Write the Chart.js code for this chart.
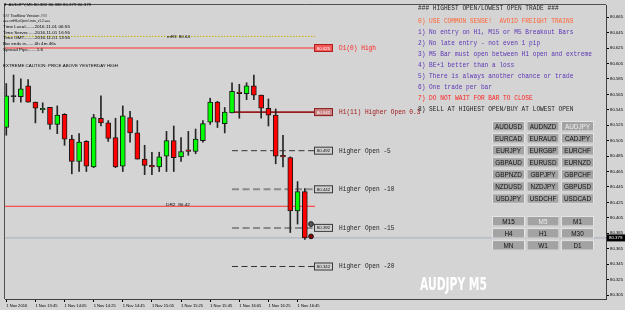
<!DOCTYPE html>
<html>
<head>
<meta charset="utf-8">
<title>AUDJPY M5</title>
<script src="https://cdn.jsdelivr.net/npm/chart.js@4.4.1/dist/chart.umd.min.js"></script>
<style>
html,body{margin:0;padding:0;background:#d4d4d4;overflow:hidden;}
#box{position:relative;width:625px;height:310px;}
canvas{display:block;}
</style>
</head>
<body>
<div id="box"><canvas id="chart" width="625" height="310"></canvas></div>
<script>
// ---------- DATA ----------
const times = ['13:25','13:30','13:35','13:40','13:45','13:50','13:55','14:00','14:05','14:10','14:15','14:20','14:25','14:30','14:35','14:40','14:45','14:50','14:55','15:00','15:05','15:10','15:15','15:20','15:25','15:30','15:35','15:40','15:45','15:50','15:55','16:00','16:05','16:10','16:15','16:20','16:25','16:30','16:35','16:40','16:45','16:50'];
const opens  = [80.522,80.562,80.562,80.576,80.555,80.545,80.548,80.526,80.539,80.507,80.478,80.504,80.471,80.534,80.528,80.509,80.472,80.535,80.515,80.481,80.473,80.471,80.485,80.505,80.484,80.493,80.491,80.505,80.529,80.555,80.527,80.541,80.568,80.566,80.576,80.564,80.547,80.538,80.486,80.483,80.414,80.439];
const highs  = [80.579,80.590,80.585,80.584,80.555,80.554,80.548,80.550,80.540,80.512,80.514,80.505,80.539,80.563,80.531,80.534,80.550,80.543,80.531,80.499,80.490,80.490,80.517,80.524,80.509,80.517,80.520,80.531,80.560,80.556,80.548,80.580,80.578,80.580,80.590,80.564,80.559,80.546,80.512,80.484,80.452,80.443];
const lows   = [80.512,80.555,80.555,80.555,80.528,80.541,80.520,80.514,80.499,80.462,80.465,80.465,80.470,80.524,80.504,80.470,80.465,80.503,80.481,80.461,80.461,80.465,80.465,80.465,80.478,80.486,80.488,80.503,80.526,80.522,80.515,80.541,80.534,80.558,80.558,80.534,80.524,80.475,80.471,80.386,80.397,80.377];
const closes = [80.563,80.562,80.572,80.555,80.547,80.547,80.526,80.538,80.507,80.478,80.503,80.472,80.535,80.528,80.508,80.471,80.537,80.515,80.481,80.473,80.471,80.484,80.505,80.483,80.491,80.491,80.507,80.527,80.555,80.529,80.542,80.569,80.566,80.576,80.564,80.547,80.538,80.485,80.484,80.414,80.439,80.379];

const xTickTimes  = ['13:25','13:45','14:05','14:25','14:45','15:05','15:25','15:45','16:05','16:25','16:45'];
const xTickLabels = ['1 Nov 2016','1 Nov 13:45','1 Nov 14:05','1 Nov 14:25','1 Nov 14:45','1 Nov 15:05','1 Nov 15:25','1 Nov 15:45','1 Nov 16:05','1 Nov 16:25','1 Nov 16:45'];
const yTicks = [80.305,80.325,80.345,80.365,80.385,80.405,80.425,80.445,80.465,80.485,80.505,80.525,80.545,80.565,80.585,80.605,80.625,80.645,80.665];

const d1High = 80.625;
const d1Name = 'D1(0) High';
const levelPrices = [80.542,80.492,80.442,80.392,80.342];
const levelNames  = ['H1(11) Higher Open 0.3','Higher Open -5','Higher Open -10','Higher Open -15','Higher Open -20'];
const dr2Price = 80.42;
const mr3Price = 80.64;
const bidPrice = 80.379;
const markerPrices = [80.397, 80.381];

const titleText = '\u25BC AUDJPY,M5 80.382 80.388 80.379 80.379';
const infoLines = ['### TooSlow Version ###','=== smHiLoOpen Lines_v1.2 ===','Time Local.......2016.11.01 06:55','Time Server......2016.11.01 16:55','Time GMT.........2016.11.01 13:55','Bar ends in.......0h 4m 46s','Spread Pips.......1.6'];
const cautionText = 'EXTREME CAUTION: PRICE ABOVE YESTERDAY HIGH';
const rules = ['### HIGHEST OPEN/LOWEST OPEN TRADE ###','0) USE COMMON SENSE!  AVOID FREIGHT TRAINS','1) No entry on H1, M15 or M5 Breakout Bars','2) No late entry - not even 1 pip','3) M5 Bar must open between H1 open and extreme','4) BE+1 better than a loss','5) There is always another chance or trade','6) One trade per bar','7) DO NOT WAIT FOR BAR TO CLOSE','8) SELL AT HIGHEST OPEN/BUY AT LOWEST OPEN'];
const pairRows = [['AUDUSD','AUDNZD','AUDJPY'],['EURCAD','EURAUD','CADJPY'],['EURJPY','EURGBP','EURCHF'],['GBPAUD','EURUSD','EURNZD'],['GBPNZD','GBPJPY','GBPCHF'],['NZDUSD','NZDJPY','GBPUSD'],['USDJPY','USDCHF','USDCAD']];
const tfRows = [['M15','M5','M1'],['H4','H1','M30'],['MN','W1','D1']];
const activePair = 'AUDJPY';
const activeTf = 'M5';
const watermark = 'AUDJPY M5';

// ---------- STYLES / LAYOUT (kept apart from data) ----------
const BG = '#d4d4d4';
const X_MIN = -0.177, X_MAX = 82.36;
const Y_MIN = 80.2999, Y_MAX = 80.6807;
const LV_START = 31, LV_END = 42.66, PIV_END = 42.4;
const levelColors = ['#9b1b1b','#333333','#8a8a8a','#8a8a8a','#333333'];
const levelWidths = [1.6,1,2,2,1];
const levelDash = [[],[6,3.5],[7,3.5],[7,3.5],[6,3.5]];
const levelTextColors = ['#a01818','#222222','#222222','#222222','#222222'];
const ruleColors = ['#262626','#ff6436','#5c35b5','#5c35b5','#5c35b5','#5c35b5','#5c35b5','#5c35b5','#ff2020','#1c1c1c'];
const ruleY = [8.3,20.7,32.3,43.3,54,65,76,87.3,98.3,109];
const infoY = [15.7,20.8,26.7,32.3,37.7,43.3,49.3];
const infoW = [44,47,67,67,67,53,40];
const MONO = '7.2px "Liberation Mono", "DejaVu Sans Mono", monospace';
const MONO_CHAR = 3.7;

const idx = opens.map((_, i) => i);
const xLabelAt = {};
xTickTimes.forEach((t, k) => { xLabelAt[times.indexOf(t)] = xTickLabels[k]; });

function lineDs(x0, x1, price, color, width, dash, order) {
  return {
    type: 'line',
    data: [{x: x0, y: price}, {x: x1, y: price}],
    borderColor: color, borderWidth: width, borderDash: dash,
    pointRadius: 0, fill: false, tension: 0, order: order
  };
}

const datasets = [];
datasets.push({
  type: 'bar', label: 'wick',
  data: idx.map(i => ({x: i, y: [lows[i], highs[i]]})),
  backgroundColor: '#262626', borderWidth: 0,
  barThickness: 1, grouped: false, order: 5
});
datasets.push({
  type: 'bar', label: 'body',
  data: idx.map(i => ({x: i, y: [opens[i], closes[i]]})),
  backgroundColor: idx.map(i => closes[i] > opens[i] ? '#00ff00' : (closes[i] < opens[i] ? '#ff0000' : '#262626')),
  borderColor: '#1a1a1a', borderWidth: 1, borderSkipped: false,
  barThickness: 5, minBarLength: 1, grouped: false, order: 4
});
datasets.push(lineDs(X_MIN, X_MAX, bidPrice, '#a6aebb', 1, [], 9));
datasets.push(lineDs(X_MIN, PIV_END, d1High, '#ff2a2a', 1, [], 8));
datasets.push(lineDs(X_MIN, PIV_END, mr3Price, '#c9b300', 1, [1.5, 1.5], 8));
datasets.push(lineDs(X_MIN, PIV_END, dr2Price, '#ff3030', 1, [], 8));
levelPrices.forEach((p, k) => datasets.push(lineDs(LV_START, LV_END, p, levelColors[k], levelWidths[k], levelDash[k], 7)));
datasets.push({
  type: 'line', showLine: false,
  data: markerPrices.map(p => ({x: 41.85, y: p})),
  pointRadius: 2.4, pointBackgroundColor: ['#5a5a5a', '#8a0000'], pointBorderColor: '#1a1a1a', pointBorderWidth: 1,
  order: 1
});

function fitText(ctx, text, x, y, w, font, color) {
  ctx.save();
  ctx.font = font; ctx.fillStyle = color; ctx.textBaseline = 'middle'; ctx.textAlign = 'left';
  const nat = ctx.measureText(text).width;
  const s = w ? w / nat : 1;
  ctx.translate(x, y); ctx.scale(s, 1);
  ctx.fillText(text, 0, 0);
  ctx.restore();
}
function monoText(ctx, text, x, y, color) {
  fitText(ctx, text, x, y, text.length * MONO_CHAR, MONO, color);
}

function button(ctx, x, y, w, h, label, active) {
  ctx.save();
  ctx.fillStyle = '#a3a3a3';
  ctx.fillRect(x, y, w, h);
  ctx.strokeStyle = '#e4e4e4';
  ctx.lineWidth = 1;
  ctx.strokeRect(x + 0.5, y + 0.5, w - 1, h - 1);
  ctx.font = '6.4px "Liberation Sans", Arial, sans-serif';
  ctx.textAlign = 'center'; ctx.textBaseline = 'middle';
  ctx.fillStyle = active ? '#eeeeee' : '#111111';
  ctx.fillText(label, x + w / 2, y + h / 2 + 0.5);
  ctx.restore();
}

function priceBox(ctx, x, yc, w, txt, fill, stroke, color) {
  ctx.save();
  ctx.fillStyle = fill; ctx.fillRect(x, yc - 4, w, 8);
  ctx.strokeStyle = stroke; ctx.lineWidth = 1; ctx.strokeRect(x + 0.5, yc - 3.5, w - 1, 7);
  ctx.font = '4.4px "Liberation Sans", Arial, sans-serif';
  ctx.fillStyle = color; ctx.textAlign = 'center'; ctx.textBaseline = 'middle';
  ctx.fillText(txt, x + w / 2, yc + 0.3);
  ctx.restore();
}

const mt4 = {
  id: 'mt4',
  beforeDraw(chart) {
    const c = chart.ctx; c.save(); c.fillStyle = BG; c.fillRect(0, 0, chart.width, chart.height); c.restore();
  },
  afterDraw(chart) {
    const ctx = chart.ctx, ys = chart.scales.y, a = chart.chartArea;
    const SMALL = '4.4px "Liberation Sans", Arial, sans-serif';
    ctx.save();
    ctx.strokeStyle = '#505050'; ctx.lineWidth = 1;
    ctx.beginPath(); ctx.moveTo(a.left - 0.5, a.bottom); ctx.lineTo(a.left - 0.5, a.top - 0.5); ctx.lineTo(a.right, a.top - 0.5); ctx.stroke();
    ctx.restore();
    fitText(ctx, titleText, 3, 5, 88, SMALL, '#000');
    infoLines.forEach((t, k) => fitText(ctx, t, 3, infoY[k], infoW[k], SMALL, '#000'));
    fitText(ctx, cautionText, 3, 65.7, 115, SMALL, '#000');
    fitText(ctx, 'mR3  ' + mr3Price.toFixed(2), 167, ys.getPixelForValue(mr3Price), 23, SMALL, '#000');
    fitText(ctx, 'DR2  ' + dr2Price.toFixed(2), 166, ys.getPixelForValue(dr2Price) - 1.5, 24, SMALL, '#000');
    const yd = ys.getPixelForValue(d1High);
    priceBox(ctx, 314, yd, 19, d1High.toFixed(3), '#f25a5a', '#b02020', '#ffffff');
    monoText(ctx, d1Name, 339, yd, '#ff2020');
    levelPrices.forEach((p, k) => {
      const y = ys.getPixelForValue(p);
      if (k === 0) priceBox(ctx, 314, y, 19, p.toFixed(3), '#c98080', '#8b2020', '#ffffff');
      else priceBox(ctx, 314, y, 19, p.toFixed(3), '#cfcfcf', '#3a3a3a', '#111111');
      monoText(ctx, levelNames[k], 339, y, levelTextColors[k]);
    });
    rules.forEach((t, k) => monoText(ctx, t, 418, ruleY[k], ruleColors[k]));
    const bx = [492, 526.5, 561];
    pairRows.forEach((row, r) => row.forEach((p, c) => button(ctx, bx[c], 121 + r * 12.05, 33, 10.5, p, p === activePair)));
    tfRows.forEach((row, r) => row.forEach((p, c) => button(ctx, bx[c], 216 + r * 12.05, 33, 10.5, p, p === activeTf)));
    fitText(ctx, watermark, 420, 286, 67, 'bold 17px "DejaVu Sans Condensed", "DejaVu Sans", sans-serif', '#ffffff');
    const yb = ys.getPixelForValue(bidPrice);
    ctx.save();
    ctx.fillStyle = '#000'; ctx.fillRect(607, yb - 3.5, 18, 7);
    ctx.font = SMALL; ctx.fillStyle = '#fff'; ctx.textBaseline = 'middle';
    ctx.fillText(bidPrice.toFixed(3), 609, yb + 0.3);
    ctx.restore();
  }
};

new Chart(document.getElementById('chart'), {
  type: 'bar',
  data: { datasets: datasets },
  plugins: [mt4],
  options: {
    responsive: false,
    animation: false,
    devicePixelRatio: 1,
    events: [],
    layout: { padding: { top: 1, left: 1, right: 0, bottom: 0 } },
    plugins: { legend: { display: false }, tooltip: { enabled: false } },
    scales: {
      x: {
        type: 'linear', min: X_MIN, max: X_MAX, offset: false,
        afterBuildTicks: s => { s.ticks = xTickTimes.map(t => ({ value: times.indexOf(t) })); },
        afterFit: s => { s.height = 11; s.paddingLeft = 0; s.paddingRight = 0; },
        ticks: {
          autoSkip: false, maxRotation: 0, minRotation: 0, align: 'start', padding: 1,
          color: '#000', font: { family: '"Liberation Sans", Arial, sans-serif', size: 4.1 },
          callback: v => xLabelAt[v] || ''
        },
        grid: { display: true, drawOnChartArea: false, drawTicks: true, tickLength: 3, color: '#000', offset: false },
        border: { display: true, color: '#404040', width: 1 }
      },
      y: {
        type: 'linear', position: 'right', min: Y_MIN, max: Y_MAX,
        afterBuildTicks: s => { s.ticks = yTicks.map(v => ({ value: v })); },
        afterFit: s => { s.width = 19; s.paddingTop = 0; s.paddingBottom = 0; },
        ticks: {
          padding: 1, color: '#000', font: { family: '"Liberation Sans", Arial, sans-serif', size: 4.3 },
          callback: v => Number(v).toFixed(3)
        },
        grid: { display: true, drawOnChartArea: false, drawTicks: true, tickLength: 3, color: '#000' },
        border: { display: true, color: '#404040', width: 1 }
      }
    }
  }
});
</script>
</body>
</html>
